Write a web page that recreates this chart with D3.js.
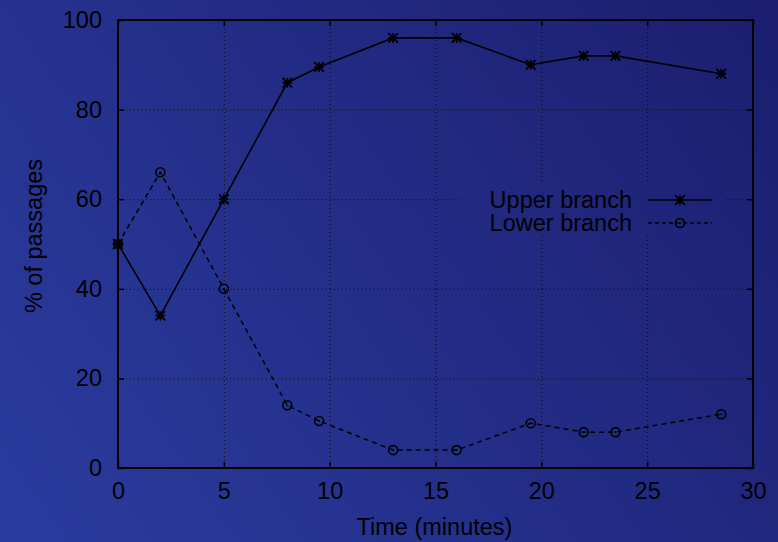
<!DOCTYPE html>
<html>
<head>
<meta charset="utf-8">
<script src="https://cdn.jsdelivr.net/npm/d3@7"></script>
<style>
  html, body { margin: 0; padding: 0; }
  body { width: 778px; height: 542px; overflow: hidden; }
  text { font-family: "Liberation Sans", Arial, sans-serif; fill: #000; }
</style>
</head>
<body>
<div id="graph"></div>
<script>
// data
var times = [0, 2, 5, 8, 9.5, 13, 16, 19.5, 22, 23.5, 28.5];
var upperBranch = [50, 34, 60, 86, 89.5, 96, 96, 90, 92, 92, 88];
var lowerBranch = [50, 66, 40, 14, 10.5, 4, 4, 10, 8, 8, 12];
var xTicks = [0, 5, 10, 15, 20, 25, 30];
var yTicks = [0, 20, 40, 60, 80, 100];
var seriesNames = ["Upper branch", "Lower branch"];

var w = 778, h = 542;
var padLeft = 118, padRight = 753, padTop = 20, padBottom = 468;
var fontSize = 23.5;

var svg = d3.select("#graph").append("svg")
	.attr("width", w)
	.attr("height", h);

// background gradient, in page units so the legend box can reuse it
var defs = svg.append("defs");
var grad = defs.append("linearGradient")
	.attr("id", "bg")
	.attr("gradientUnits", "userSpaceOnUse")
	.attr("x1", 0).attr("y1", h)
	.attr("x2", w).attr("y2", 0);
grad.append("stop").attr("offset", "0").attr("stop-color", "#2b3c9f");
grad.append("stop").attr("offset", "1").attr("stop-color", "#1b1e6e");
svg.append("rect").attr("width", w).attr("height", h).attr("fill", "url(#bg)");

var xScale = d3.scaleLinear().domain([0, 30]).range([padLeft, padRight]);
var yScale = d3.scaleLinear().domain([0, 100]).range([padBottom, padTop]);

// grid (dotted)
var grid = svg.append("g").attr("stroke", "#000").attr("stroke-width", 1)
	.attr("stroke-dasharray", "1,3").attr("opacity", 0.8);
xTicks.slice(1, -1).forEach(function (t) {
	grid.append("line")
		.attr("x1", xScale(t) + 0.5).attr("x2", xScale(t) + 0.5)
		.attr("y1", padTop).attr("y2", padBottom);
});
yTicks.slice(1, -1).forEach(function (t) {
	grid.append("line")
		.attr("x1", padLeft).attr("x2", padRight)
		.attr("y1", yScale(t) + 0.5).attr("y2", yScale(t) + 0.5);
});

// axes with inner ticks
var xAxis = d3.axisBottom(xScale).tickValues(xTicks).tickSize(-6).tickPadding(15);
var yAxis = d3.axisLeft(yScale).tickValues(yTicks).tickSize(-6).tickPadding(16);

var gx = svg.append("g").attr("transform", "translate(0," + padBottom + ")").call(xAxis);
var gy = svg.append("g").attr("transform", "translate(" + padLeft + ",0)").call(yAxis);
var gx2 = svg.append("g").attr("transform", "translate(0," + padTop + ")")
	.call(d3.axisTop(xScale).tickValues(xTicks).tickSize(-6).tickFormat(""));
var gy2 = svg.append("g").attr("transform", "translate(" + padRight + ",0)")
	.call(d3.axisRight(yScale).tickValues(yTicks).tickSize(-6).tickFormat(""));

[gx, gy, gx2, gy2].forEach(function (g) {
	g.select(".domain").remove();
	g.attr("font-size", fontSize).attr("font-family", "Liberation Sans, Arial, sans-serif");
	g.selectAll("line").attr("stroke", "#000").attr("stroke-width", 1.5);
	g.selectAll("text").attr("fill", "#000");
});
gx.selectAll("text").attr("dy", "0.7em");

// border
svg.append("rect")
	.attr("x", padLeft).attr("y", padTop)
	.attr("width", padRight - padLeft).attr("height", padBottom - padTop)
	.attr("fill", "none").attr("stroke", "#000").attr("stroke-width", 2);

// axis labels
svg.append("text")
	.attr("x", (padLeft + padRight) / 2 - 1)
	.attr("y", 535)
	.attr("text-anchor", "middle")
	.attr("font-size", fontSize)
	.text("Time (minutes)");

svg.append("text")
	.attr("transform", "translate(42,236) rotate(-90)")
	.attr("text-anchor", "middle")
	.attr("font-size", fontSize)
	.text("% of passages");

// legend (opaque, covers the grid)
var legend = svg.append("g");
legend.append("rect")
	.attr("x", 462).attr("y", 184)
	.attr("width", 263).attr("height", 51)
	.attr("fill", "url(#bg)");

var line = d3.line()
	.x(function (d) { return xScale(d[0]); })
	.y(function (d) { return yScale(d[1]); });

function star(g, x, y) {
	var s = 4.8;
	g.append("path")
		.attr("d", "M" + (x - s) + "," + (y - s) + "L" + (x + s) + "," + (y + s) +
			"M" + (x - s) + "," + (y + s) + "L" + (x + s) + "," + (y - s) +
			"M" + (x - s) + "," + y + "L" + (x + s) + "," + y +
			"M" + x + "," + (y - s) + "L" + x + "," + (y + s))
		.attr("stroke", "#000").attr("stroke-width", 1.8).attr("fill", "none");
}
function circ(g, x, y) {
	g.append("circle")
		.attr("cx", x).attr("cy", y).attr("r", 4.5)
		.attr("stroke", "#000").attr("stroke-width", 1.6).attr("fill", "none");
	g.append("circle")
		.attr("cx", x).attr("cy", y).attr("r", 0.9).attr("fill", "#000");
}

var upperPts = times.map(function (t, i) { return [t, upperBranch[i]]; });
var lowerPts = times.map(function (t, i) { return [t, lowerBranch[i]]; });

var plot = svg.append("g");
plot.append("path").datum(lowerPts).attr("d", line)
	.attr("fill", "none").attr("stroke", "#000").attr("stroke-width", 1.5)
	.attr("stroke-dasharray", "5,4");
plot.append("path").datum(upperPts).attr("d", line)
	.attr("fill", "none").attr("stroke", "#000").attr("stroke-width", 1.6);

lowerPts.forEach(function (d) { circ(plot, xScale(d[0]), yScale(d[1])); });
upperPts.forEach(function (d) { star(plot, xScale(d[0]), yScale(d[1])); });

// legend entries
var legY = [200, 223];
seriesNames.forEach(function (name, i) {
	legend.append("text")
		.attr("x", 632).attr("y", legY[i] + 8)
		.attr("text-anchor", "end")
		.attr("font-size", fontSize)
		.text(name);
	legend.append("line")
		.attr("x1", 648).attr("x2", 712)
		.attr("y1", legY[i]).attr("y2", legY[i])
		.attr("stroke", "#000").attr("stroke-width", 1.5)
		.attr("stroke-dasharray", i == 0 ? null : "4,3");
	if (i == 0) star(legend, 680, legY[i]);
	else circ(legend, 680, legY[i]);
});
</script>
</body>
</html>
